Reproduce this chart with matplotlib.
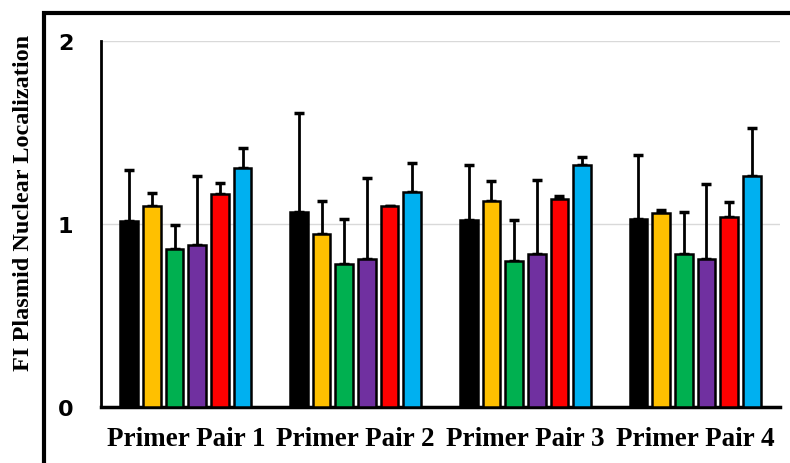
import numpy as np
import matplotlib.pyplot as plt
from matplotlib.patches import Rectangle

# ── Data ──────────────────────────────────────────────────────────────────────

categories = ["Primer Pair 1", "Primer Pair 2", "Primer Pair 3", "Primer Pair 4"]

means = [
    [1.015, 1.064, 1.020, 1.025],   # black
    [1.098, 0.944, 1.126, 1.060],   # yellow
    [0.865, 0.781, 0.800, 0.838],   # green
    [0.887, 0.811, 0.834, 0.807],   # purple
    [1.166, 1.097, 1.138, 1.038],   # red
    [1.304, 1.177, 1.322, 1.262],   # blue
]
upper = [
    [1.297, 1.605, 1.321, 1.375],
    [1.169, 1.124, 1.235, 1.077],
    [0.993, 1.026, 1.020, 1.066],
    [1.260, 1.253, 1.242, 1.220],
    [1.222, 1.097, 1.155, 1.120],
    [1.415, 1.335, 1.366, 1.525],
]
colours = ["#000000", "#FFC000", "#00B050", "#7030A0", "#FF0000", "#00B0F0"]
yticks = [0, 1, 2]

# ── Figure ────────────────────────────────────────────────────────────────────

W, H = 790, 464
fig = plt.figure(figsize=(W / 100, H / 100), dpi=100)
ax = fig.add_axes([101 / W, (H - 408) / H, (780 - 101) / W, (408 - 42) / H])

# outer frame running off the right / bottom edge
fig.patches.append(Rectangle((44 / W, -0.1), 1.2, (H - 14) / H + 0.1,
                             transform=fig.transFigure, fill=False,
                             edgecolor="black", linewidth=3))

x = np.arange(len(categories))
pitch = 0.1335
width = 0.104
for i, (m, u, c) in enumerate(zip(means, upper, colours)):
    xs = x + (i - 2.5) * pitch
    m = np.array(m)
    err = np.array(u) - m
    ax.bar(xs, m, width, color=c, edgecolor="black", linewidth=1.8, zorder=3)
    ax.errorbar(xs, m, yerr=[np.zeros_like(err), err], fmt="none",
                ecolor="black", elinewidth=2, capsize=3.5, capthick=2.5, zorder=2)

ax.set_xlim(-0.5, 3.5)
ax.set_ylim(0, 2)
ax.set_yticks(yticks)
ax.set_yticklabels([str(t) for t in yticks], fontsize=16, fontweight="bold",
                   family="DejaVu Sans")
ax.set_xticks(x)
ax.set_xticklabels(categories, fontsize=19.5, fontweight="bold",
                   family="Liberation Serif")
ax.tick_params(axis="both", length=0)
ax.tick_params(axis="y", pad=20)
ax.tick_params(axis="x", pad=14)

ax.grid(axis="y", color="#D9D9D9", linewidth=1, zorder=0)
ax.set_axisbelow(True)
for s in ("top", "right"):
    ax.spines[s].set_visible(False)
ax.spines["left"].set_linewidth(2)
ax.spines["bottom"].set_linewidth(2.5)

fig.text(24 / W, (H - 203) / H, "FI Plasmid Nuclear Localization",
         rotation=90, ha="center", va="center", fontsize=17.5,
         fontweight="bold", family="Liberation Serif")

fig.savefig("out.png", dpi=100)
